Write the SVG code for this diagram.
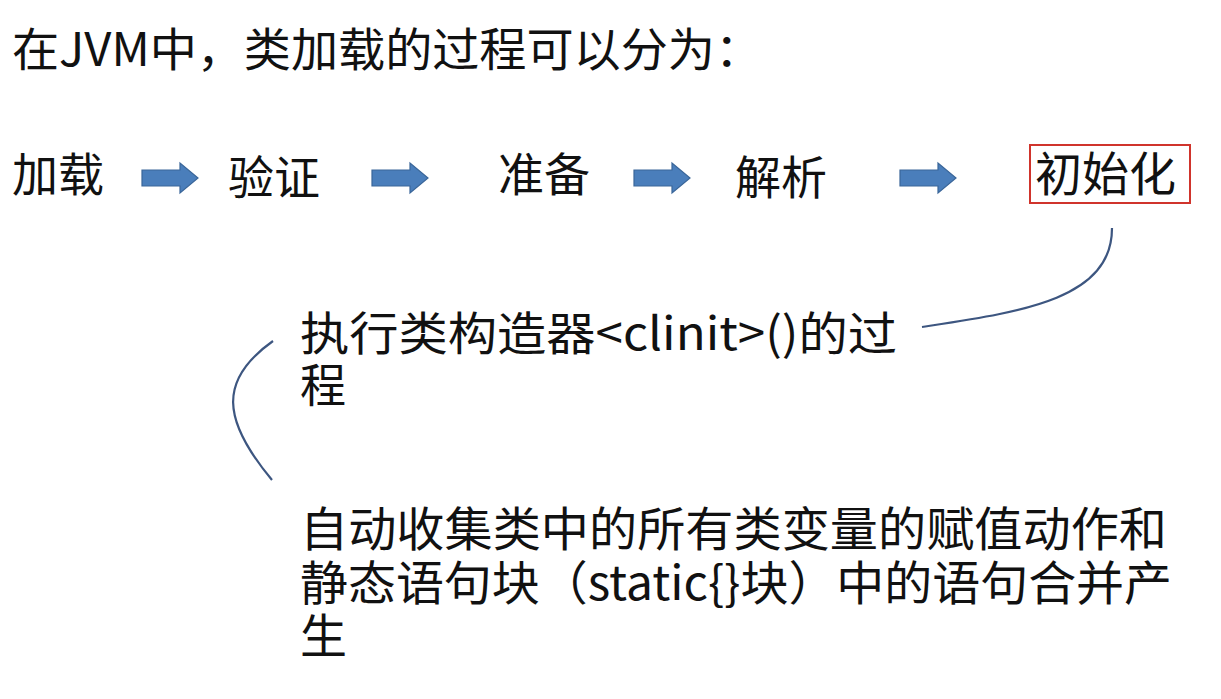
<svg xmlns="http://www.w3.org/2000/svg" width="1221" height="699" viewBox="0 0 1221 699">
<defs>
<style>
.t{font-family:"Microsoft YaHei","Noto Sans CJK SC","Noto Sans",sans-serif;fill:#111;}
.arr{fill:#4a7ebb;stroke:#3a6699;stroke-width:1.2;}
.cv{fill:none;stroke:#3d5680;stroke-width:2.2;}
</style>
<path id="ba" d="M0,7 H38 V0 L56,15 L38,30 V23 H0 Z"/>
</defs>
<rect width="1221" height="699" fill="#fff"/>
<g id="title"><text class="t" x="12" y="66" font-size="46" textLength="750" lengthAdjust="spacingAndGlyphs">在JVM中，类加载的过程可以分为：</text></g>
<g id="n-load"><text class="t" x="12" y="191" font-size="46">加载</text></g>
<g id="n-verify"><text class="t" x="228" y="194" font-size="46">验证</text></g>
<g id="n-prepare"><text class="t" x="498" y="191" font-size="46">准备</text></g>
<g id="n-resolve"><text class="t" x="735" y="194" font-size="46">解析</text></g>
<g id="n-init">
<rect x="1030" y="145" width="160" height="58" fill="none" stroke="#d0342c" stroke-width="2"/>
<text class="t" x="1035" y="191" font-size="47">初始化</text>
</g>
<g id="n-desc1">
<text class="t" font-size="46"><tspan x="300" y="350" textLength="597" lengthAdjust="spacingAndGlyphs">执行类构造器&lt;clinit&gt;()的过</tspan><tspan x="300" y="402">程</tspan></text>
</g>
<g id="n-desc2">
<text class="t" font-size="47"><tspan x="300" y="546" textLength="867" lengthAdjust="spacingAndGlyphs">自动收集类中的所有类变量的赋值动作和</tspan><tspan x="300" y="600" textLength="872" lengthAdjust="spacingAndGlyphs">静态语句块（static{}块）中的语句合并产</tspan><tspan x="300" y="653">生</tspan></text>
</g>
<g id="connectors">
<use href="#ba" class="arr" x="142" y="163"/>
<use href="#ba" class="arr" x="372" y="163"/>
<use href="#ba" class="arr" x="634" y="163"/>
<use href="#ba" class="arr" x="900" y="163"/>
<path class="cv" d="M1112,228 C1112,300 1020,312 922,327"/>
<path class="cv" d="M273,341 C218,380 222,420 272,480"/>
</g>
</svg>
